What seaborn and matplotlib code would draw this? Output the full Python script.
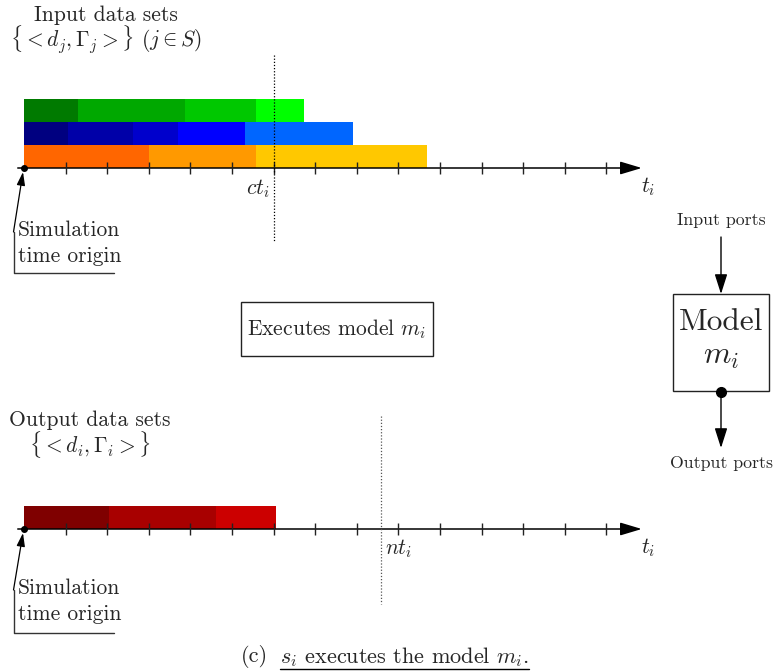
import matplotlib
matplotlib.use("Agg")
import matplotlib.pyplot as plt
from matplotlib.patches import Rectangle
import seaborn as sns

# ---- data: end times of consecutive data-set segments (time units) ----
input_green_ends = [1.3, 3.87, 5.58, 6.72]
input_blue_ends = [1.06, 2.62, 3.70, 5.31, 7.90]
input_orange_ends = [3.0, 5.58, 9.69]
output_red_ends = [2.04, 4.62, 6.05]

green_colors = ["#007a00", "#00a800", "#00c800", "#00ff00"]
blue_colors = ["#000080", "#0000a8", "#0000cc", "#0000ff", "#0066ff"]
orange_colors = ["#ff6600", "#ff9900", "#ffc800"]
red_colors = ["#7f0000", "#a80000", "#cc0000"]

current_time = 6.0      # ct_i
next_time = 8.57        # nt_i
tick_values = list(range(1, 15))

# ---- styling ----
sns.set_theme(style="white")
plt.rcParams["font.family"] = ["cmr10", "DejaVu Serif"]
plt.rcParams["mathtext.fontset"] = "cm"
plt.rcParams["axes.formatter.use_mathtext"] = True
plt.rcParams["axes.unicode_minus"] = False

W, H = 774, 672
ORIGIN_PX = 24.0
PX_PER_UNIT = 41.6
FS = 15.5

fig = plt.figure(figsize=(W / 100, H / 100), dpi=100)
fig.patch.set_facecolor("white")

# overlay in pixel coordinates for annotations
ax_p = fig.add_axes([0, 0, 1, 1])
ax_p.set_xlim(0, W)
ax_p.set_ylim(H, 0)
ax_p.axis("off")

# time axes: x in time units, y shares the pixel layout
ax_t = fig.add_axes([0, 0, 1, 1])
ax_t.set_xlim(-ORIGIN_PX / PX_PER_UNIT, (W - ORIGIN_PX) / PX_PER_UNIT)
ax_t.set_ylim(H, 0)
ax_t.axis("off")
ax_t.patch.set_alpha(0)

ROW_H = 23.0


def draw_row(ends, colors, y_center):
    starts = [0.0] + ends[:-1]
    widths = [e - s for s, e in zip(starts, ends)]
    ax_t.barh([y_center] * len(ends), widths, left=starts, height=ROW_H,
              color=colors, edgecolor="none", zorder=2)


def draw_time_axis(y):
    ax_t.annotate("", xy=(14.85, y), xytext=(-0.15, y),
                  arrowprops=dict(arrowstyle="-|>,head_length=1.1,head_width=0.33",
                                  color="black", lw=1.1, shrinkA=0, shrinkB=0,
                                  mutation_scale=12),
                  zorder=3)
    ax_t.vlines(tick_values, y - 6, y + 6, color="#222222", lw=1, zorder=3)
    ax_t.plot([0], [y], "o", color="black", ms=4, zorder=4)


def origin_label(y_axis, y_top, y_bottom):
    ax_p.annotate("", xy=(23, y_axis + 4), xytext=(13.5, y_top),
                  arrowprops=dict(arrowstyle="-|>,head_length=0.8,head_width=0.25",
                                  color="black", lw=0.9, shrinkA=0, shrinkB=0,
                                  mutation_scale=10))
    ax_p.plot([13.5, 13.5, 114], [y_top, y_bottom, y_bottom], color="#333333", lw=1)
    ax_p.text(18, y_top - 2, "Simulation", fontsize=FS, ha="left", va="center")
    ax_p.text(18, y_top + 24, "time origin", fontsize=FS, ha="left", va="center")


# ---- input data sets timeline ----
TOP_AXIS = 168.0
draw_row(input_green_ends, green_colors, TOP_AXIS - 2.5 * ROW_H)
draw_row(input_blue_ends, blue_colors, TOP_AXIS - 1.5 * ROW_H)
draw_row(input_orange_ends, orange_colors, TOP_AXIS - 0.5 * ROW_H)
draw_time_axis(TOP_AXIS)
ax_t.vlines(current_time, 55, 241, color="black", lw=0.9, linestyles=(0, (1, 1.5)), zorder=5)
ax_t.text(current_time - 0.1, 189, r"$ct_i$", fontsize=FS, ha="right", va="center")
ax_p.text(648, 187, r"$t_i$", fontsize=FS, ha="center", va="center")
ax_p.text(106, 15, "Input data sets", fontsize=FS, ha="center", va="center")
ax_p.text(106, 40, r"$\{< d_j, \Gamma_j >\}$ $(j \in S)$", fontsize=FS,
          ha="center", va="center")
origin_label(TOP_AXIS, 232, 273)

# ---- execution box ----
ax_p.add_patch(Rectangle((241, 302), 192, 54, fill=False, edgecolor="#222222", lw=1))
ax_p.text(337, 329, r"Executes model $m_i$", fontsize=FS, ha="center", va="center")

# ---- model block with ports ----
ax_p.add_patch(Rectangle((673, 294), 96, 97, fill=False, edgecolor="#222222", lw=1))
ax_p.text(721, 322, "Model", fontsize=22.5, ha="center", va="center")
ax_p.text(721, 357, r"$m_i$", fontsize=22.5, ha="center", va="center")
ax_p.text(721, 220, "Input ports", fontsize=12.8, ha="center", va="center")
ax_p.annotate("", xy=(721, 294), xytext=(721, 237),
              arrowprops=dict(arrowstyle="-|>,head_length=1.1,head_width=0.35",
                              color="black", lw=1, shrinkA=0, shrinkB=0,
                              mutation_scale=11))
ax_p.plot([721], [392], "o", color="black", ms=7)
ax_p.annotate("", xy=(721, 448), xytext=(721, 392),
              arrowprops=dict(arrowstyle="-|>,head_length=1.1,head_width=0.35",
                              color="black", lw=1, shrinkA=0, shrinkB=0,
                              mutation_scale=11))
ax_p.text(721, 463, "Output ports", fontsize=12.8, ha="center", va="center")

# ---- output data sets timeline ----
BOT_AXIS = 529.0
draw_row(output_red_ends, red_colors, BOT_AXIS - 0.5 * ROW_H)
draw_time_axis(BOT_AXIS)
ax_t.vlines(next_time, 416, 604, color="#555555", lw=0.9, linestyles=(0, (1, 1.5)), zorder=5)
ax_t.text(next_time + 0.1, 549, r"$nt_i$", fontsize=FS, ha="left", va="center")
ax_p.text(648, 548, r"$t_i$", fontsize=FS, ha="center", va="center")
ax_p.text(90, 420, "Output data sets", fontsize=FS, ha="center", va="center")
ax_p.text(90, 445, r"$\{< d_i, \Gamma_i >\}$", fontsize=FS, ha="center", va="center")
origin_label(BOT_AXIS, 590, 633)

# ---- caption ----
ax_p.text(268, 657, "(c)", fontsize=16, ha="right", va="center")
cap = ax_p.text(280, 657, r"$s_i$ executes the model $m_i$.", fontsize=16,
                ha="left", va="center")
fig.canvas.draw()
bb = cap.get_window_extent(fig.canvas.get_renderer())
x0, x1 = ax_p.transData.inverted().transform([[bb.x0, 0], [bb.x1, 0]])[:, 0]
ax_p.plot([x0, x1], [669, 669], color="black", lw=1)

fig.savefig("out.png", dpi=100, facecolor="white")
